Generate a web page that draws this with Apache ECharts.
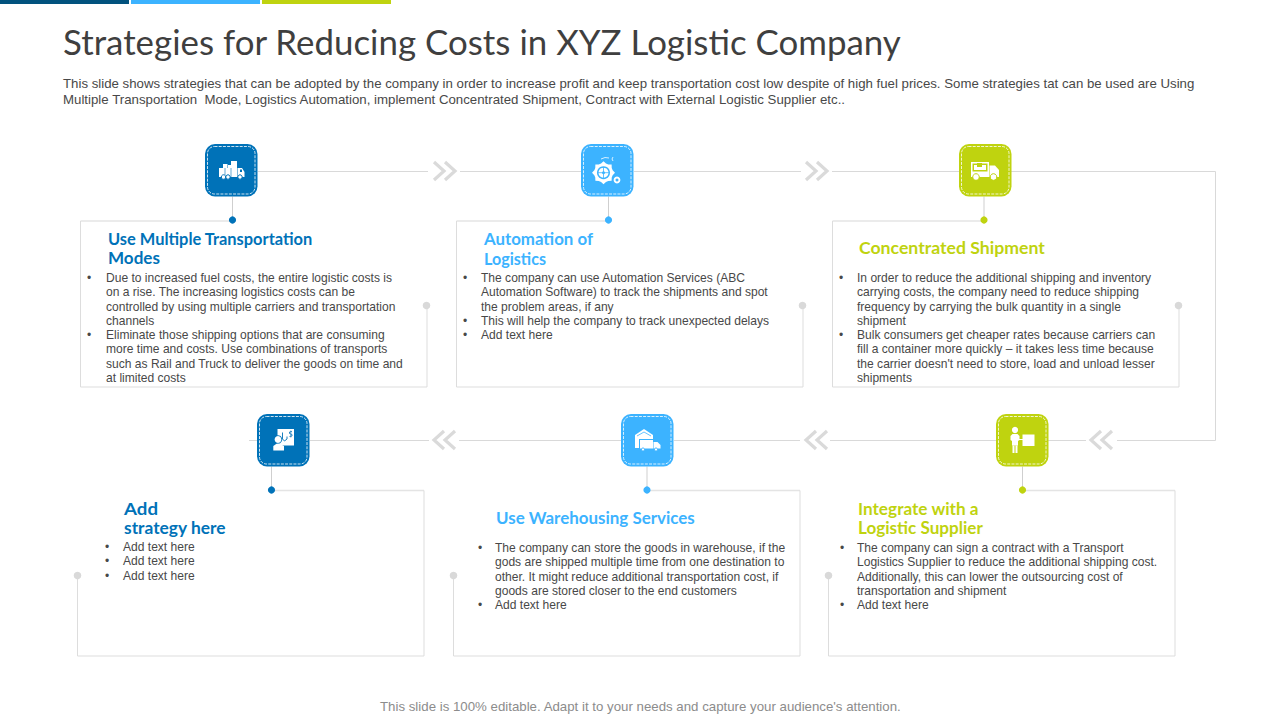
<!DOCTYPE html>
<html>
<head>
<meta charset="utf-8">
<title>Strategies for Reducing Costs</title>
<script src="https://cdn.jsdelivr.net/npm/echarts@6/dist/echarts.min.js"></script>
<style>
html,body{margin:0;padding:0;background:#fff}
#main{width:1280px;height:720px}
#main text{font-variant-ligatures:none}
</style>
</head>
<body>
<div id="main"></div>
<script>
var pageTitle = 'Strategies for Reducing Costs in XYZ Logistic Company';
var introLines = [
  'This slide shows strategies that can be adopted by the company in order to increase profit and keep transportation cost low despite of high fuel prices. Some strategies tat can be used are Using',
  'Multiple Transportation  Mode, Logistics Automation, implement Concentrated Shipment, Contract with External Logistic Supplier etc..'
];
var footerText = "This slide is 100% editable. Adapt it to your needs and capture your audience's attention.";

var cardTitles = [
  ['Use Multiple Transportation', 'Modes'],
  ['Automation of', 'Logistics'],
  ['Concentrated Shipment'],
  ['Integrate with a', 'Logistic Supplier'],
  ['Use Warehousing Services'],
  ['Add', 'strategy here']
];
var cardBullets = [
  [['Due to increased fuel costs, the entire logistic costs is', 'on a rise. The increasing logistics costs can be', 'controlled by using multiple carriers and transportation', 'channels'],
   ['Eliminate those shipping options that are consuming', 'more time and costs. Use combinations of transports', 'such as Rail and Truck to deliver the goods on time and', 'at limited costs']],
  [['The company can use Automation Services (ABC', 'Automation Software) to track the shipments and spot', 'the problem areas, if any'],
   ['This will help the company to track unexpected delays'],
   ['Add text here']],
  [['In order to reduce the additional shipping and inventory', 'carrying costs, the company need to reduce shipping', 'frequency by carrying the bulk quantity in a single', 'shipment'],
   ['Bulk consumers get cheaper rates because carriers can', 'fill a container more quickly \u2013 it takes less time because', "the carrier doesn't need to store, load and unload lesser", 'shipments']],
  [['The company can sign a contract with a Transport', 'Logistics Supplier to reduce the additional shipping cost.', 'Additionally, this can lower the outsourcing cost of', 'transportation and shipment'],
   ['Add text here']],
  [['The company can store the goods in warehouse, if the', 'gods are shipped multiple time from one destination to', 'other. It might reduce additional transportation cost, if', 'goods are stored closer to the end customers'],
   ['Add text here']],
  [['Add text here'], ['Add text here'], ['Add text here']]
];

var BLUE = '#0072b8', SKY = '#3cb3ff', LIME = '#bfd30f', NAVY = '#02527e';
var GREY = '#d9d9d9', TEXT = '#484848';
var FONT = '"Liberation Sans", Arial, sans-serif';
var HEAD = 'Lato, "Open Sans", sans-serif';

// layout of the six cards: box, dot on the box, icon corner, where the text starts, heading widths
var layout = [
  {color: BLUE, x: 80.5,  y: 221, icon: [205, 144], dot: [232.5, 220], grey: [426, 305], tx: 108, ty: [239, 258], tw: [205, 52], bx: 87,  lx: 106, ly: 278},
  {color: SKY,  x: 456.5, y: 221, icon: [581, 144], dot: [608.5, 220], grey: [802, 305], tx: 484, ty: [239, 258], tw: [109, 62], bx: 463, lx: 481, ly: 278},
  {color: LIME, x: 832.5, y: 221, icon: [959, 144], dot: [984, 220],   grey: [1178, 305], tx: 859, ty: [248],     tw: [186],    bx: 839, lx: 857, ly: 278},
  {color: LIME, x: 828.5, y: 490, icon: [996, 414], dot: [1022.5, 490], grey: [828, 575], tx: 858, ty: [509, 528], tw: [121, 125], bx: 840, lx: 857, ly: 548, low: true},
  {color: SKY,  x: 453.5, y: 490, icon: [621, 414], dot: [647, 490],   grey: [453, 575], tx: 496, ty: [518],      tw: [199],    bx: 478, lx: 495, ly: 548, low: true},
  {color: BLUE, x: 77.5,  y: 490, icon: [257, 414], dot: [271.5, 490], grey: [77, 575],  tx: 124, ty: [509, 528], tw: [34, 102], bx: 105, lx: 123, ly: 547, low: true}
];
var CARD_W = 346.5, CARD_H = 166, ICON = 52.5, LEADING = 14.3, BODY_STRETCH = 1.006;

var ctx = document.createElement('canvas').getContext('2d');
function stretch(str, font, width) {
  ctx.font = font;
  return width / ctx.measureText(str).width;
}

var els = [];
function text(str, x, y, font, color, scaleX) {
  els.push({type: 'text', x: x, y: y, scaleX: scaleX || 1, z: 5, style: {
    text: str, font: font, fill: color, textVerticalAlign: 'middle', verticalAlign: 'middle'
  }});
}
function line(pts, color, width, z) {
  els.push({type: 'polyline', z: z || 1, shape: {points: pts}, style: {stroke: color, lineWidth: width || 1, fill: null}});
}
function dot(x, y, r, color) {
  els.push({type: 'circle', z: 3, shape: {cx: x, cy: y, r: r}, style: {fill: color}});
}

// top colour strip
[[0, NAVY], [131, SKY], [262, LIME]].forEach(function (b) {
  els.push({type: 'rect', shape: {x: b[0], y: 0, width: 129, height: 4}, style: {fill: b[1]}});
});

var titleFont = '35px ' + HEAD;
text(pageTitle, 63, 41.5, titleFont, '#3f3f3f', stretch(pageTitle, titleFont, 839));
var introFont = '12px ' + FONT;
text(introLines[0], 63, 84, introFont, TEXT, stretch(introLines[0], introFont, 1133));
text(introLines[1], 63, 100, introFont, TEXT, stretch(introLines[1], introFont, 784));
text(footerText, 380, 707.5, introFont, '#8c8c8c', stretch(footerText, introFont, 522));

// connector between the icons
[[[258, 171.5], [428, 171.5]], [[460, 171.5], [581, 171.5]], [[634, 171.5], [801, 171.5]], [[832, 171.5], [959, 171.5]],
 [[1011, 171.5], [1215.5, 171.5], [1215.5, 440.5], [1117, 440.5]], [[1086, 440.5], [1048, 440.5]], [[996, 440.5], [830, 440.5]],
 [[800, 440.5], [674, 440.5]], [[621, 440.5], [459, 440.5]], [[429, 440.5], [310, 440.5]], [[249, 440.5], [257, 440.5]]
].forEach(function (p) { line(p, GREY, 1); });

// chevrons: left end of the pair, centre line, direction
[[434, 171, 1], [806, 171, 1], [434, 440, -1], [806, 440, -1], [1091, 440, -1]].forEach(function (c) {
  [0, 11].forEach(function (off) {
    var a = c[2] > 0 ? c[0] + off : c[0] + off + 10;
    var b = c[2] > 0 ? a + 10 : a - 10;
    line([[a, c[1] - 9], [b, c[1]], [a, c[1] + 9]], '#dadada', 3.2);
  });
});

// icon shape helpers, coordinates are relative to the icon corner
function fillRect(o, x, y, w, h, c) {
  els.push({type: 'rect', z: 4, shape: {x: o[0] + x, y: o[1] + y, width: w, height: h}, style: {fill: c || '#fff'}});
}
function fillCircle(o, x, y, r, c, s) {
  els.push({type: 'circle', z: 4, shape: {cx: o[0] + x, cy: o[1] + y, r: r}, style: {fill: c || '#fff', stroke: s || null, lineWidth: s ? 1 : 0}});
}
function fillPoly(o, pts, c) {
  els.push({type: 'polygon', z: 4, shape: {points: pts.map(function (p) { return [o[0] + p[0], o[1] + p[1]]; })}, style: {fill: c || '#fff'}});
}
function stroke(o, pts, c, w) {
  els.push({type: 'polyline', z: 4, shape: {points: pts.map(function (p) { return [o[0] + p[0], o[1] + p[1]]; })}, style: {stroke: c || '#fff', lineWidth: w || 1, fill: null}});
}

var drawIcon = [
  function truckBoxes(o, c) {
    fillRect(o, 26, 17, 6, 7); fillRect(o, 18, 20, 4.5, 4); fillRect(o, 23, 21, 3, 3);
    fillRect(o, 14, 24, 18.5, 9); fillPoly(o, [[33, 24], [37, 24], [39.5, 28], [39.5, 33], [33, 33]]);
    stroke(o, [[20, 24], [20, 33]], c, 0.6); stroke(o, [[26, 24], [26, 33]], c, 0.6);
    fillRect(o, 35, 25.5, 2, 2.5, c);
    [18.5, 23, 35].forEach(function (x) { fillCircle(o, x, 33, 2.2, '#fff', c); });
  },
  function gears(o, c) {
    var big = [], i, a;
    for (i = 0; i < 24; i++) {
      a = i * Math.PI / 12;
      var r = i % 3 === 0 ? 11.5 : 9.5;
      big.push([22.5 + r * Math.cos(a), 28.7 + r * Math.sin(a)]);
    }
    fillPoly(o, big);
    fillCircle(o, 22.5, 28.7, 6.5, c);
    fillCircle(o, 22.5, 28.7, 5);
    stroke(o, [[22.5, 23], [22.5, 34.5]], c, 0.8);
    stroke(o, [[17, 28.7], [28, 28.7]], c, 0.8);
    fillCircle(o, 22.5, 28.7, 1.5, c);
    fillCircle(o, 36, 36, 3.4);
    fillCircle(o, 36, 36, 1.5, c);
    stroke(o, [[20, 15], [24, 13.5], [28, 14]], '#fff', 0.8);
    stroke(o, [[32, 13], [31, 15], [32, 17]], '#fff', 0.8);
  },
  function deliveryTruck(o, c) {
    fillRect(o, 12, 18, 18, 15);
    fillRect(o, 13.5, 19.5, 15, 8, c);
    fillRect(o, 15, 21, 12, 5);
    fillRect(o, 18, 19, 5, 4, c);
    fillPoly(o, [[30.5, 21.5], [36, 21.5], [40, 26], [40, 33], [30.5, 33]]);
    fillCircle(o, 17, 33, 3.3, '#fff', c);
    fillCircle(o, 34.5, 33, 3.3, '#fff', c);
  },
  function personBoard(o, c) {
    fillCircle(o, 19, 16, 3.1);
    fillPoly(o, [[16.5, 20], [21.5, 20], [23.5, 22], [23.5, 26], [22, 27], [22, 31.5], [16, 31.5], [16, 27], [14.5, 26], [14.5, 22]]);
    fillRect(o, 16.5, 31.5, 2, 7.5); fillRect(o, 19.5, 31.5, 2, 7.5);
    stroke(o, [[23, 25.5], [27, 25.5]], '#fff', 1);
    fillRect(o, 26.5, 20.5, 12, 11.5);
  },
  function warehouse(o, c) {
    fillPoly(o, [[14, 21], [23, 15], [32, 21], [32, 34], [14, 34]]);
    stroke(o, [[16, 22], [23, 18], [30, 22]], c, 0.8);
    fillRect(o, 18, 25, 14, 10, c);
    fillRect(o, 19, 26, 13, 8.5);
    fillPoly(o, [[32.5, 28], [36.5, 28], [39.5, 31], [39.5, 34.5], [32.5, 34.5]]);
    fillCircle(o, 22, 35.5, 1.5, '#fff', c);
    fillCircle(o, 35, 35.5, 1.5, '#fff', c);
  },
  function personHook(o, c) {
    fillRect(o, 20.5, 15, 16.5, 16.5);
    fillCircle(o, 21, 25.5, 4.2, c);
    fillCircle(o, 21, 25.5, 3.4);
    fillPoly(o, [[16.3, 36.5], [16.3, 32], [19.5, 29.8], [22.5, 29.8], [27, 32], [27, 36.5]]);
    stroke(o, [[25.5, 18.5], [25.5, 25], [27.5, 27], [30, 25], [30, 22.5]], c, 0.9);
    stroke(o, [[35, 17.5], [32.5, 18], [32.5, 19.5], [35, 20.5], [35, 22], [32.5, 22.5]], c, 0.8);
    stroke(o, [[33.8, 16.5], [33.8, 23.5]], c, 0.6);
  }
];

layout.forEach(function (card, i) {
  var o = card.icon, right = card.x + CARD_W, bottom = card.y + CARD_H;
  // stem from the icon to the dot
  line([[card.dot[0], o[1] + ICON], [card.dot[0], card.dot[1]]], '#cfcfcf', 1);
  // open card outline, starts at the coloured dot and stops at the grey dot
  if (!card.low) {
    line([[card.dot[0], card.y], [card.x, card.y]], '#e4e4e4', 1.6);
    line([[card.x, card.y], [card.x, bottom], [right, bottom], [right, card.grey[1]]], '#dddddd', 1);
  } else {
    line([[card.dot[0], card.y + 0.5], [right, card.y + 0.5]], '#e4e4e4', 1.6);
    line([[right, card.y + 0.5], [right, bottom], [card.x, bottom], [card.x, card.grey[1]]], '#dddddd', 1);
  }
  dot(card.dot[0], card.dot[1], 3.6, card.color);
  dot(card.grey[0] + 0.5, card.grey[1] + 0.5, 3.8, '#d9d9d9');

  els.push({type: 'rect', z: 3, shape: {x: o[0], y: o[1], width: ICON, height: ICON, r: 10}, style: {fill: card.color}});
  els.push({type: 'rect', z: 4, shape: {x: o[0] + 2.5, y: o[1] + 2.5, width: ICON - 5, height: ICON - 5, r: 7},
    style: {fill: null, stroke: '#fff', lineWidth: 0.8, lineDash: [3, 1.2]}});
  drawIcon[i](o, card.color);

  cardTitles[i].forEach(function (t, k) {
    var f = 'bold 16.5px ' + HEAD;
    text(t, card.tx, card.ty[k], f, card.color, stretch(t, f, card.tw[k]));
  });
  var row = 0;
  cardBullets[i].forEach(function (item) {
    item.forEach(function (l, k) {
      var y = card.ly + row * LEADING;
      if (k === 0) text('\u2022', card.bx, y, '12px ' + FONT, TEXT);
      text(l, card.lx, y, '12px ' + FONT, TEXT, BODY_STRETCH);
      row++;
    });
  });
});

var chart = echarts.init(document.getElementById('main'), null, {renderer: 'svg'});
chart.setOption({
  backgroundColor: '#fff',
  animation: false,
  graphic: {elements: els}
});
</script>
</body>
</html>
